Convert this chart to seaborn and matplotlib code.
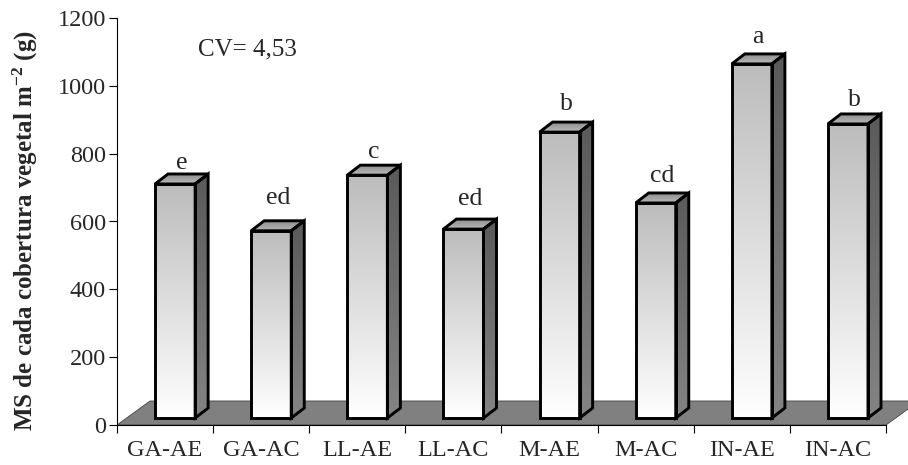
import numpy as np
import matplotlib
matplotlib.use("Agg")
from matplotlib import pyplot as plt
from matplotlib.patches import Polygon
from matplotlib.colors import LinearSegmentedColormap
import seaborn as sns
import pandas as pd

# valores
tratamentos = ["GA-AE", "GA-AC", "LL-AE", "LL-AC", "M-AE", "M-AC", "IN-AE", "IN-AC"]
ms = [690, 552, 716, 557, 843, 634, 1044, 867]
letras = ["e", "ed", "c", "ed", "b", "cd", "a", "b"]
cv_texto = "CV= 4,53"
yticks = [0, 200, 400, 600, 800, 1000, 1200]

# distancia (px) entre o topo da barra e a letra, como no original
letra_pad = [5, 17, 7, 14, 12, 11, 11, 8]

sns.set_style("ticks")
plt.rcParams['font.family'] = ['Liberation Serif', 'DejaVu Serif']
plt.rcParams['mathtext.default'] = 'regular'

fig = plt.figure(figsize=(9.08, 4.65), dpi=100)
ax = fig.add_axes([117/908, 40/465, 769/908, 407/465])

df = pd.DataFrame({"trat": tratamentos, "ms": ms})
sns.barplot(data=df, x="trat", y="ms", ax=ax, width=0.417, color="white",
            edgecolor="black", linewidth=2.1, zorder=4)
bars = list(ax.patches)

ax.set_xlim(-0.5, 7.5)
ax.set_ylim(0, 1200)

# escala aproximada: pixels -> unidades dos eixos
px_x = 1/96
px_y = 1200/407
dx_bar, dy_bar = 13*px_x, 10*px_y
shift_x, shift_y = 10*px_x, 7*px_y
floor_dx, floor_dy = 33*px_x, 24*px_y

# "piso" cinza do grafico 3D
piso = Polygon([(-0.5, 0), (7.5, 0), (7.5+floor_dx, floor_dy), (-0.5+floor_dx, floor_dy)],
               closed=True, facecolor="#808080", edgecolor="#404040", lw=0.6,
               zorder=1, clip_on=False)
ax.add_patch(piso)

front_cmap = LinearSegmentedColormap.from_list("fr", ["#ffffff", "#bcbcbc"])
side_cmap = LinearSegmentedColormap.from_list("sd", ["#848484", "#5a5a5a"])
top_cmap = LinearSegmentedColormap.from_list("tp", ["#b8b8b8", "#909090"])
grad = np.linspace(0, 1, 256).reshape(-1, 1)

for p, letra, pad in zip(bars, letras, letra_pad):
    p.set_x(p.get_x() + shift_x)
    p.set_y(shift_y)
    p.set_facecolor("none")
    p.set_joinstyle("miter")
    x0, w, h = p.get_x(), p.get_width(), p.get_height()
    x1 = x0 + w
    y0 = shift_y
    y1 = y0 + h

    im = ax.imshow(grad, extent=[x0, x1, y0, y1], origin="lower", aspect="auto",
                   cmap=front_cmap, vmin=0, vmax=1, zorder=3, interpolation="bilinear")
    im.set_clip_path(p)

    lado = Polygon([(x1, y0), (x1+dx_bar, y0+dy_bar), (x1+dx_bar, y1+dy_bar), (x1, y1)],
                   closed=True, facecolor="none", edgecolor="black", lw=2.1,
                   joinstyle="miter", zorder=4)
    ax.add_patch(lado)
    im2 = ax.imshow(grad, extent=[x1, x1+dx_bar, y0, y1+dy_bar], origin="lower",
                    aspect="auto", cmap=side_cmap, vmin=0, vmax=1, zorder=3,
                    interpolation="bilinear")
    im2.set_clip_path(lado)

    topo = Polygon([(x0, y1), (x1, y1), (x1+dx_bar, y1+dy_bar), (x0+dx_bar, y1+dy_bar)],
                   closed=True, facecolor="none", edgecolor="black", lw=2.1,
                   joinstyle="miter", zorder=4)
    ax.add_patch(topo)
    im3 = ax.imshow(grad, extent=[x0, x1+dx_bar, y1, y1+dy_bar], origin="lower",
                    aspect="auto", cmap=top_cmap, vmin=0, vmax=1, zorder=3,
                    interpolation="bilinear")
    im3.set_clip_path(topo)

    ax.text(x0 + (w+dx_bar)/2, y1 + dy_bar + pad*px_y, letra, ha="center",
            va="baseline", fontsize=18.5, zorder=5)

ax.set_xlim(-0.5, 7.5)
ax.set_ylim(0, 1200)

ax.text(0.105, 0.907, cv_texto, transform=ax.transAxes, fontsize=18, va="baseline", ha="left")

ax.set_yticks(yticks)
ax.tick_params(axis="y", length=6, width=0.8, pad=2, labelsize=17.5, direction="out", color="black")
ax.set_xticks(range(len(tratamentos)))
ax.set_xticklabels(tratamentos)
ax.set_xticks(np.arange(-0.5, len(tratamentos), 1), minor=True)
ax.tick_params(axis="x", which="major", length=0, pad=11, labelsize=17.5)
ax.tick_params(axis="x", which="minor", length=6, width=0.8, direction="out", color="black")
ax.set_xlabel("")
ax.set_ylabel("MS de cada cobertura vegetal m$^{-2}$ (g)", fontsize=18, fontweight="bold")
ax.yaxis.set_label_coords(-0.1, 0.479)

sns.despine(ax=ax)
for s in ["left", "bottom"]:
    ax.spines[s].set_linewidth(0.8)
    ax.spines[s].set_color("black")

fig.savefig("out.png", dpi=100)
